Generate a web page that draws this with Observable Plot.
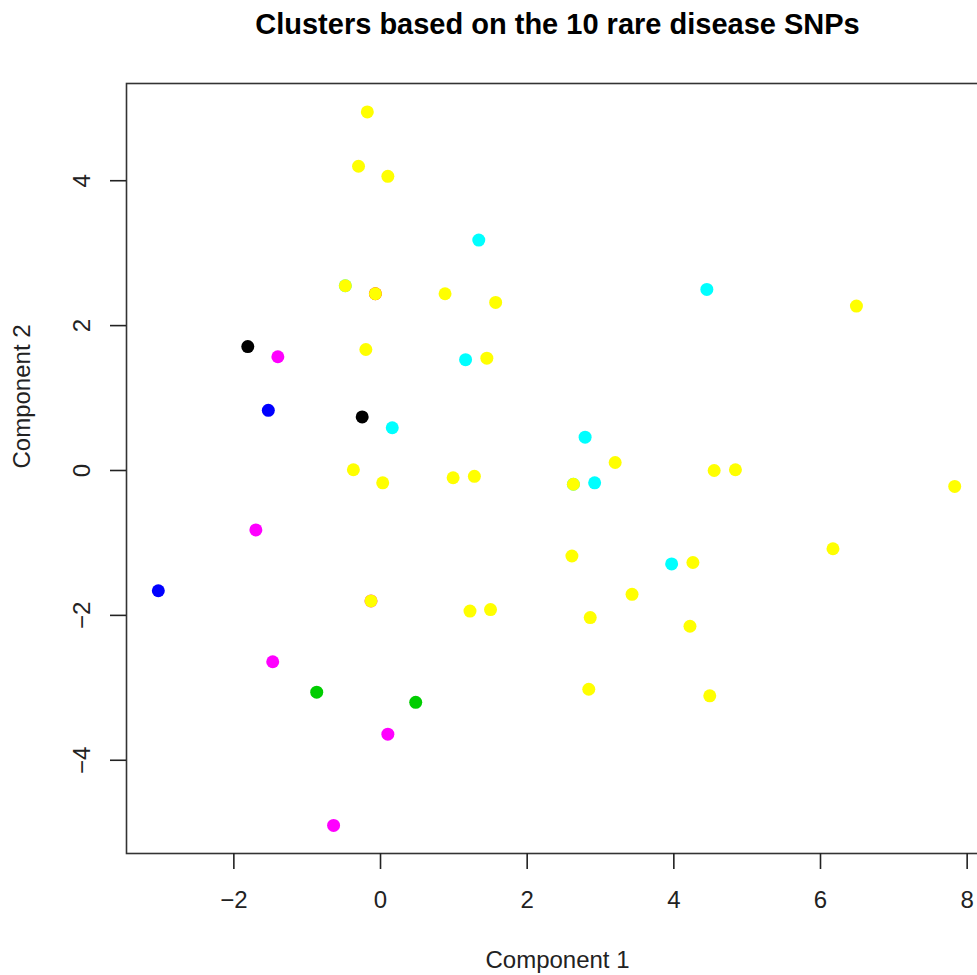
<!DOCTYPE html>
<html>
<head>
<meta charset="utf-8">
<script src="https://cdn.jsdelivr.net/npm/d3@7"></script>
<script src="https://cdn.jsdelivr.net/npm/@observablehq/plot@0.6"></script>
<style>
  html, body { margin: 0; padding: 0; background: #fff; overflow: hidden; }
  #chart svg { display: block; }
</style>
</head>
<body>
<div id="chart"></div>
<script>
// Component scores, in drawing order
const comp1 = [-0.07, -0.13, -0.48, 2.63,
  -0.18, -0.30, 0.10, 1.34, -0.48, -0.07, 0.88, 1.57, -1.81, -1.40, -0.20, 1.16, 1.45,
  -1.53, -0.25, 0.16, -0.37, 0.03, 0.99, 1.28, -1.70, -3.03, -0.13, 1.22, 1.50, -1.47,
  -0.87, 0.48, 0.10, -0.64, 4.45, 6.49, 2.79, 3.20, 4.55, 4.84, 2.63, 2.92, 7.83, 2.61,
  3.97, 4.26, 6.17, 3.43, 2.86, 4.22, 2.84, 4.49];
const comp2 = [2.44, -1.80, 2.55, -0.19,
  4.95, 4.20, 4.06, 3.18, 2.55, 2.44, 2.44, 2.32, 1.71, 1.57, 1.67, 1.53, 1.55,
  0.83, 0.74, 0.59, 0.01, -0.17, -0.10, -0.08, -0.82, -1.66, -1.80, -1.94, -1.92, -2.64,
  -3.06, -3.20, -3.64, -4.90, 2.50, 2.27, 0.46, 0.11, 0.00, 0.01, -0.19, -0.17, -0.22, -1.18,
  -1.29, -1.27, -1.08, -1.71, -2.03, -2.15, -3.02, -3.11];
const cluster = [2, 6, 5, 5,
  7, 7, 7, 5, 7, 7, 7, 7, 1, 6, 7, 5, 7,
  4, 1, 5, 7, 7, 7, 7, 6, 4, 7, 7, 7, 6,
  3, 3, 6, 6, 5, 7, 5, 7, 7, 7, 7, 5, 7, 7,
  5, 7, 7, 7, 7, 7, 7, 7];
const clusterIds = [1, 2, 3, 4, 5, 6, 7];
const clusterColors = ["#000000", "#FF0000", "#00CD00", "#0000FF", "#00FFFF", "#FF00FF", "#FFFF00"];
const xTicks = [-2, 0, 2, 4, 6, 8];
const yTicks = [-4, -2, 0, 2, 4];
const titleText = "Clusters based on the 10 rare disease SNPs";
const xLabel = "Component 1";
const yLabel = "Component 2";

const points = comp1.map((x, i) => ({x, y: comp2[i], cluster: cluster[i]}));
const fmt = d => d < 0 ? "\u2212" + Math.abs(d) : String(d);
const ink = "#222";

const plot = Plot.plot({
  width: 977,
  height: 975,
  marginLeft: 126,
  marginRight: -11,
  marginTop: 83,
  marginBottom: 122,
  style: {fontFamily: "'Liberation Sans', Arial, sans-serif", background: "#fff", color: ink},
  x: {domain: [-3.464, 8.291], axis: null},
  y: {domain: [-5.287, 5.342], axis: null},
  color: {type: "ordinal", domain: clusterIds, range: clusterColors},
  marks: [
    Plot.dot(points, {x: "x", y: "y", fill: "cluster", r: 6.5}),
    Plot.frame({stroke: "#333", strokeWidth: 1.6}),
    Plot.axisX({ticks: xTicks, tickSize: 16, tickPadding: 21, fontSize: 24, tickFormat: fmt,
      label: null, strokeWidth: 1.6, color: ink}),
    Plot.axisY({ticks: yTicks, tickSize: 16, tickFormat: () => "", label: null,
      strokeWidth: 1.6, color: ink}),
    Plot.text(yTicks, {y: d => d, text: fmt, frameAnchor: "left", dx: -37, rotate: -90,
      lineAnchor: "bottom", textAnchor: "middle", fontSize: 24, fill: ink}),
    Plot.text([titleText], {text: d => d, frameAnchor: "top", dy: -50, lineAnchor: "bottom",
      fontSize: 29, fontWeight: "bold", fill: "#000"}),
    Plot.text([xLabel], {text: d => d, frameAnchor: "bottom", dy: 114, lineAnchor: "bottom",
      fontSize: 24, fill: ink}),
    Plot.text([yLabel], {text: d => d, frameAnchor: "left", dx: -97, rotate: -90,
      lineAnchor: "bottom", fontSize: 24, fill: ink})
  ]
});
document.getElementById("chart").appendChild(plot);
</script>
</body>
</html>
